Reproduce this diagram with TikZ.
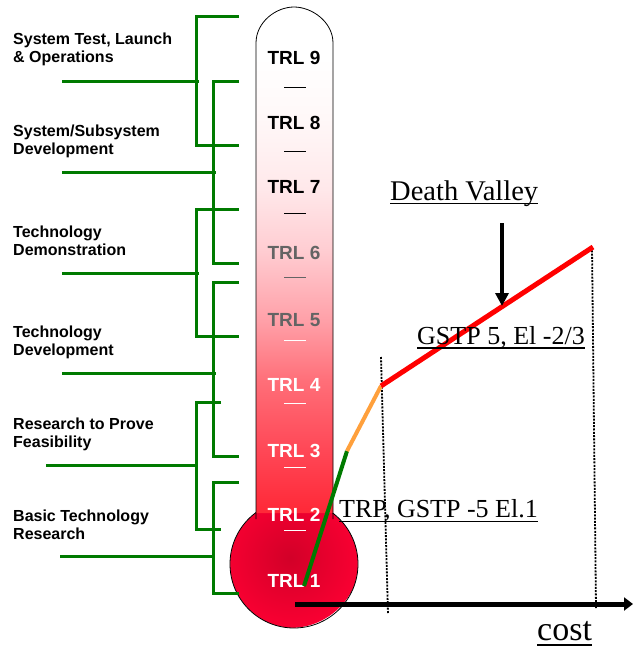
\documentclass[tikz,border=0pt]{standalone}
\usepackage{fontspec}
\setmainfont{Liberation Serif}
\setsansfont{Liberation Sans}
\usetikzlibrary{arrows.meta}
\definecolor{brgreen}{RGB}{0,122,0}
\definecolor{pathorange}{RGB}{255,160,60}
\definecolor{pathred}{RGB}{255,0,0}
\definecolor{trlgray}{RGB}{100,100,100}
\definecolor{tA}{RGB}{255,40,55}
\definecolor{tB}{RGB}{255,70,85}
\definecolor{tC}{RGB}{255,110,120}
\definecolor{tD}{RGB}{255,160,168}
\definecolor{tE}{RGB}{255,205,210}
\definecolor{tF}{RGB}{255,232,234}
\definecolor{tG}{RGB}{255,248,248}
\definecolor{bulbin}{RGB}{210,0,40}
\definecolor{bulbout}{RGB}{250,0,50}
\pgfdeclareverticalshading{tubeshade}{100bp}{color(0bp)=(tA); color(25bp)=(tA); color(31bp)=(tB); color(38bp)=(tC); color(44bp)=(tD); color(51bp)=(tE); color(57bp)=(tF); color(64bp)=(tG); color(70bp)=(white); color(100bp)=(white)}
\tikzset{
  grn/.style={draw=brgreen, line width=3pt},
  phase/.style={font=\sffamily\bfseries\fontsize{16}{18}\selectfont, anchor=west, align=left, inner sep=0pt},
  trl/.style={font=\sffamily\bfseries\fontsize{19}{19}\selectfont, inner sep=0pt},
  tick/.style={line width=1pt},
  serifnote/.style={font=\fontsize{26}{26}\selectfont, anchor=base west, inner sep=0pt},
  uline/.style={line width=1.5pt},
  dotline/.style={line width=1.8pt, dash pattern=on 2pt off 1.3pt},
}
\begin{document}
\begin{tikzpicture}[x=1pt,y=-1pt]
\useasboundingbox (0,0) rectangle (633,648);

% bulb
\shade[inner color=bulbin, outer color=bulbout] (290,558) circle (70);
\fill[white, even odd rule] (294,564) circle (64) (180,480) rectangle (420,650);
\draw[line width=0.8pt] (294,564) circle (64);
% tube
\shade[shading=tubeshade] (256,513) -- (256,43) .. controls (256,22) and (276,7) .. (294,7) .. controls (312,7) and (333,22) .. (333,43) -- (333,513) -- cycle;
\draw[line width=0.8pt] (256,519) -- (256,43) .. controls (256,22) and (276,7) .. (294,7) .. controls (312,7) and (333,22) .. (333,43) -- (333,519);

% TRL labels
\node[trl, text=black] (t9) at (294,58) {TRL 9};
\node[trl, text=black] (t8) at (294,123) {TRL 8};
\node[trl, text=black] (t7) at (294,187) {TRL 7};
\node[trl, text=trlgray] (t6) at (294,253) {TRL 6};
\node[trl, text=trlgray] (t5) at (294,320) {TRL 5};
\node[trl, text=white] (t4) at (294,385) {TRL 4};
\node[trl, text=white] (t3) at (294,451) {TRL 3};
\node[trl, text=white] (t2) at (294,515) {TRL 2};
\node[trl, text=white] (t1) at (294,581) {TRL 1};
\draw[tick, black] (284,87) -- (306,87);
\draw[tick, black] (284,151) -- (306,151);
\draw[tick, black] (284,213) -- (306,213);
\draw[tick, trlgray] (284,277) -- (306,277);
\draw[tick, white] (284,340) -- (306,340);
\draw[tick, white] (284,403) -- (306,403);
\draw[tick, white] (284,467) -- (306,467);
\draw[tick, white] (284,530) -- (306,530);

% phase labels
\node[phase] (ph1) at (13,49) {System Test, Launch\\\& Operations};
\node[phase] (ph2) at (13,141) {System/Subsystem\\Development};
\node[phase] (ph3) at (13,241) {Technology\\Demonstration};
\node[phase] (ph4) at (13,342) {Technology\\Development};
\node[phase] (ph5) at (13,434) {Research to Prove\\Feasibility};
\node[phase] (ph6) at (13,525) {Basic Technology\\Research};

% green brackets
\draw[grn] (239,16) -- (196,16) -- (196,145) -- (239,145);
\draw[grn] (62,81) -- (199,81);
\draw[grn] (239,81) -- (213,81) -- (213,263) -- (239,263);
\draw[grn] (62,172) -- (216,172);
\draw[grn] (239,209) -- (196,209) -- (196,336) -- (239,336);
\draw[grn] (62,273) -- (199,273);
\draw[grn] (239,282) -- (213,282) -- (213,456) -- (239,456);
\draw[grn] (62,373) -- (216,373);
\draw[grn] (221,402) -- (196,402) -- (196,529) -- (221,529);
\draw[grn] (46,465) -- (196,465);
\draw[grn] (239,482) -- (213,482) -- (213,593) -- (239,593);
\draw[grn] (60,556) -- (213,556);

% dotted verticals
\coordinate (d1a) at (381,357);
\coordinate (d1b) at (388,614);
\coordinate (d2a) at (592,247);
\coordinate (d2b) at (596,608);
\draw[dotline] (d1a) -- (d1b);
\draw[dotline] (d2a) -- (d2b);

% cost axis
\coordinate (ax0) at (295,604);
\coordinate (ax1) at (633,604);
\draw[line width=5pt, -{Triangle[length=9pt,width=13pt]}] (ax0) -- (ax1);

% TRL path
\coordinate (p0) at (304,586);
\coordinate (p1) at (347,451);
\coordinate (p2) at (381,386);
\coordinate (p3) at (593,247);
\draw[line width=4pt, brgreen] (p0) -- (p1);
\draw[line width=4pt, pathorange] (p1) -- (p2);
\draw[line width=5pt, pathred] (p2) -- (p3);

% texts
\node[serifnote, font=\fontsize{28.5}{28.5}\selectfont] (dv) at (390,200) {Death Valley};
\draw[uline] ([yshift=-3.5pt]dv.base west) -- ([yshift=-3.5pt]dv.base east);
\coordinate (arTop) at (502,223);
\coordinate (arBot) at (502,306);
\draw[line width=3.5pt, -{Triangle[length=13pt,width=13pt]}] (arTop) -- (arBot);
\node[serifnote] (g5) at (417,344) {GSTP 5, El -2/3};
\draw[uline] ([yshift=-4pt]g5.base west) -- ([yshift=-4pt]g5.base east);
\node[serifnote] (trp) at (339,517) {TRP, GSTP -5 El.1};
\draw[uline] ([yshift=-4.5pt]trp.base west) -- ([yshift=-4.5pt]trp.base east);
\node[serifnote, font=\fontsize{34}{34}\selectfont] (cost) at (537,640) {cost};
\draw[uline] ([yshift=-5pt]cost.base west) -- ([yshift=-5pt]cost.base east);
\end{tikzpicture}
\end{document}
